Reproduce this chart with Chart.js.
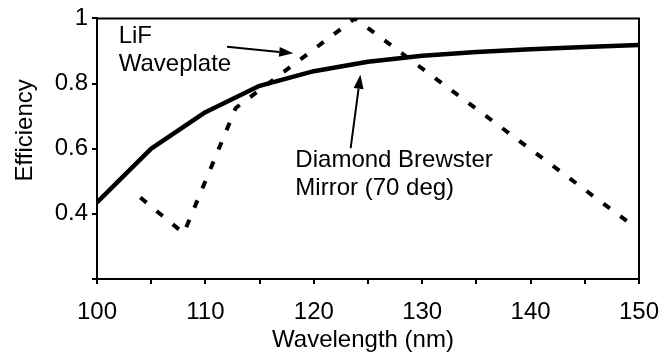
<!DOCTYPE html>
<html>
<head>
<meta charset="utf-8">
<script src="https://cdn.jsdelivr.net/npm/chart.js@4/dist/chart.umd.min.js"></script>
<style>
  html, body { margin: 0; padding: 0; background: #fff; }
</style>
</head>
<body>
<canvas id="chart" width="670" height="354"></canvas>
<script>
// Diamond Brewster mirror (70 deg) - solid line.
const mirrorWavelength = [100, 105, 110, 115, 120, 125, 130, 135, 140, 145, 150];
const mirrorEfficiency = [0.435, 0.600, 0.712, 0.793, 0.838, 0.867, 0.885, 0.897, 0.905, 0.912, 0.918];

// LiF waveplate - dashed line.
const lifWavelength = [104, 108, 112.8, 123.8, 149];
const lifEfficiency = [0.450, 0.340, 0.725, 1.000, 0.375];

// Labelled ticks.
const xTickLabels = [100, 110, 120, 130, 140, 150];
const yTickLabels = [0.4, 0.6, 0.8, 1];

// Text notes and arrows, in data units.
const notes = [
    { lines: ['LiF', 'Waveplate'], x: 102.0, y: 0.925 },
    { lines: ['Diamond Brewster', 'Mirror (70 deg)'], x: 118.3, y: 0.544 }
];
const arrows = [
    { from: [112.0, 0.913], to: [118.1, 0.893] },
    { from: [123.4, 0.602], to: [124.3, 0.827] }
];

const fontFamily = '"Liberation Sans", Arial, Helvetica, sans-serif';

const toPoints = (xs, ys) => xs.map((x, i) => ({ x: x, y: ys[i] }));

// Draws the box, the notes, the arrows and the axis titles.
const decorations = {
    id: 'decorations',
    afterDatasetsDraw(chart) {
        const ctx = chart.ctx;
        const area = chart.chartArea;
        const xScale = chart.scales.x;
        const yScale = chart.scales.y;

        ctx.save();
        ctx.strokeStyle = '#000';
        ctx.fillStyle = '#000';

        // Top and right frame lines.
        ctx.lineWidth = 2;
        ctx.beginPath();
        ctx.moveTo(area.left, area.top);
        ctx.lineTo(area.right, area.top);
        ctx.lineTo(area.right, area.bottom);
        ctx.stroke();

        // Notes.
        ctx.font = '24px ' + fontFamily;
        ctx.textAlign = 'left';
        ctx.textBaseline = 'alphabetic';
        for (const note of notes) {
            const px = xScale.getPixelForValue(note.x);
            const py = yScale.getPixelForValue(note.y);
            note.lines.forEach((line, i) => ctx.fillText(line, px, py + i * 28));
        }

        // Arrows.
        for (const arrow of arrows) {
            const x1 = xScale.getPixelForValue(arrow.from[0]);
            const y1 = yScale.getPixelForValue(arrow.from[1]);
            const x2 = xScale.getPixelForValue(arrow.to[0]);
            const y2 = yScale.getPixelForValue(arrow.to[1]);
            const angle = Math.atan2(y2 - y1, x2 - x1);
            const headLength = 14;
            const headWidth = 5;
            const bx = x2 - headLength * Math.cos(angle);
            const by = y2 - headLength * Math.sin(angle);

            ctx.lineWidth = 2;
            ctx.beginPath();
            ctx.moveTo(x1, y1);
            ctx.lineTo(bx, by);
            ctx.stroke();

            ctx.beginPath();
            ctx.moveTo(x2, y2);
            ctx.lineTo(bx + headWidth * Math.sin(angle), by - headWidth * Math.cos(angle));
            ctx.lineTo(bx - headWidth * Math.sin(angle), by + headWidth * Math.cos(angle));
            ctx.closePath();
            ctx.fill();
        }

        // Axis titles.
        ctx.font = '24px ' + fontFamily;
        ctx.textAlign = 'center';
        ctx.textBaseline = 'alphabetic';
        ctx.fillText('Wavelength (nm)', (area.left + area.right) / 2 - 5, area.bottom + 68);

        ctx.translate(32, area.top + 112);
        ctx.rotate(-Math.PI / 2);
        ctx.fillText('Efficiency', 0, 0);
        ctx.restore();
    }
};

new Chart(document.getElementById('chart'), {
    type: 'scatter',
    data: {
        datasets: [
            {
                label: 'Diamond Brewster Mirror (70 deg)',
                data: toPoints(mirrorWavelength, mirrorEfficiency),
                showLine: true,
                borderColor: '#000',
                borderWidth: 4.5,
                borderJoinStyle: 'round',
                pointRadius: 0,
                tension: 0
            },
            {
                label: 'LiF Waveplate',
                data: toPoints(lifWavelength, lifEfficiency),
                showLine: true,
                borderColor: '#000',
                borderWidth: 4,
                borderDash: [8, 13],
                pointRadius: 0,
                tension: 0
            }
        ]
    },
    options: {
        responsive: false,
        animation: false,
        layout: {
            padding: { top: 14, right: 31, left: 0, bottom: 0 }
        },
        plugins: {
            legend: { display: false },
            tooltip: { enabled: false }
        },
        scales: {
            x: {
                type: 'linear',
                min: 100,
                max: 150,
                afterFit: scale => {
                    scale.height = 75;
                    scale.paddingLeft = 0;
                    scale.paddingRight = 0;
                },
                ticks: {
                    stepSize: 5,
                    autoSkip: false,
                    maxRotation: 0,
                    padding: 14,
                    color: '#000',
                    font: { family: fontFamily, size: 24 },
                    callback: value => xTickLabels.includes(value) ? String(value) : ''
                },
                grid: {
                    drawOnChartArea: false,
                    color: '#000',
                    lineWidth: 2,
                    tickLength: 5
                },
                border: { color: '#000', width: 2 }
            },
            y: {
                min: 0.2,
                max: 1,
                afterFit: scale => { scale.width = 97; },
                ticks: {
                    stepSize: 0.2,
                    padding: 4,
                    color: '#000',
                    font: { family: fontFamily, size: 24 },
                    callback: value => {
                        const rounded = Math.round(value * 10) / 10;
                        return yTickLabels.includes(rounded) ? String(rounded) : '';
                    }
                },
                grid: {
                    drawOnChartArea: false,
                    color: '#000',
                    lineWidth: 2,
                    tickLength: 5
                },
                border: { color: '#000', width: 2 }
            }
        }
    },
    plugins: [decorations]
});
</script>
</body>
</html>
